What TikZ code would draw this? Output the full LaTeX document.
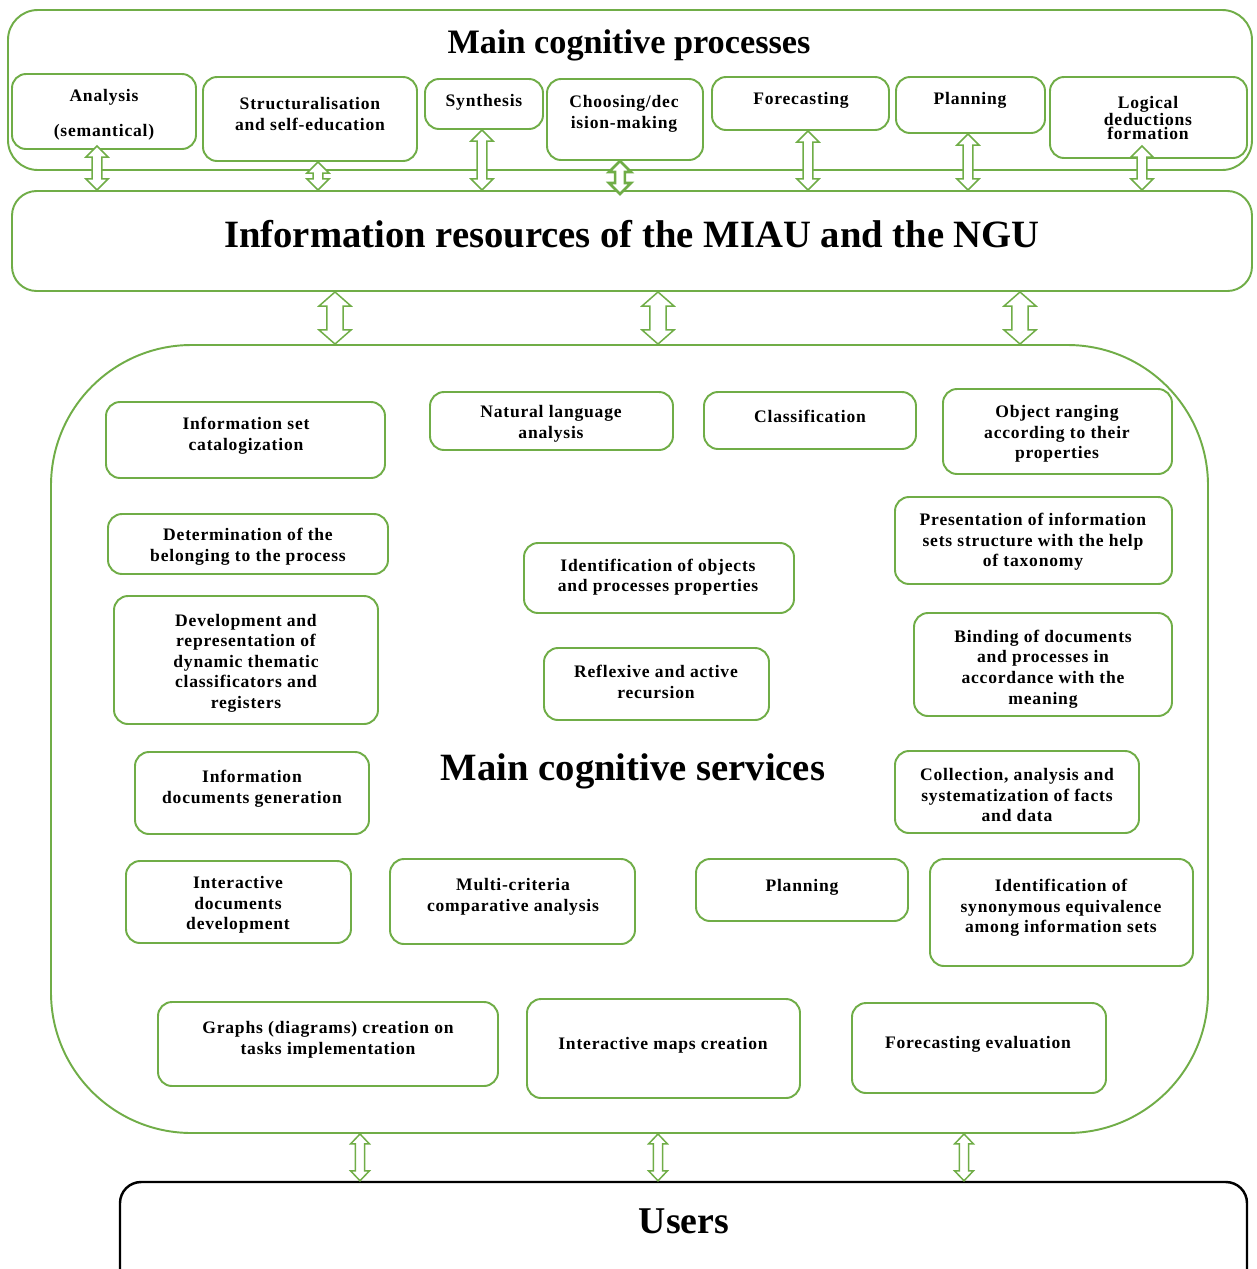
\documentclass[tikz,border=0pt]{standalone}
\usepackage{fontspec}
\setmainfont{Liberation Serif}
\newfontfamily\boxfont[LetterSpace=4.5]{Liberation Serif}
\usetikzlibrary{fit,calc}
\definecolor{lgreen}{RGB}{112,173,71}
\tikzstyle{groupbox}=[draw=lgreen,line width=1.1pt,inner sep=0pt,
                      rounded corners=17pt]
\tikzstyle{cbox}=[draw=lgreen,line width=1.1pt,inner sep=0pt,
                  rounded corners=8pt]
\tikzstyle{ctext}=[font=\boxfont\bfseries\fontsize{10}{11.7}\selectfont,
                   align=center,inner sep=0pt,yshift=-1.7pt]
\tikzstyle{bigtitle}=[font=\bfseries\fontsize{22}{24}\selectfont,inner sep=0pt]
\tikzset{arrsize/.code args={#1/#2/#3}{\def\ahw{#1}\def\asw{#2}\def\ahl{#3}},
  darrow/.style={draw=lgreen,line width=0.85pt,fill=white,to path={
    let \p1=(\tikztostart), \p2=(\tikztotarget) in
    (\x1,\y1) -- (\x1+\ahw,\y1-\ahl) -- (\x1+\asw,\y1-\ahl)
    -- (\x1+\asw,\y2+\ahl) -- (\x1+\ahw,\y2+\ahl) -- (\x1,\y2)
    -- (\x1-\ahw,\y2+\ahl) -- (\x1-\asw,\y2+\ahl)
    -- (\x1-\asw,\y1-\ahl) -- (\x1-\ahw,\y1-\ahl) -- cycle}}}

\begin{document}
\begin{tikzpicture}[x=0.02cm,y=-0.02cm]
  \useasboundingbox[fill=white] (0,0) rectangle (1257,1269);

  % main cognitive processes
  \node[groupbox,fit={(8,10) (1252,170)}] (proc) {};
  \node[bigtitle,font=\bfseries\fontsize{19.5}{22}\selectfont] (proc-t) at (629,45) {Main cognitive processes};
  \node[cbox,fit={(12,74) (196,149)}] (ana) {};
  \node[ctext] (ana-t) at (104,112) {Analysis\\[8pt](semantical)};
  \node[cbox,fit={(203,77) (417,161)}] (struc) {};
  \node[ctext] (struc-t) at (310,111) {Structuralisation\\and self-education};
  \node[cbox,fit={(425,79) (543,129)}] (synth) {};
  \node[ctext] (synth-t) at (484,99) {Synthesis};
  \node[cbox,fit={(547,79) (703,160)}] (choose) {};
  \node[ctext] (choose-t) at (624,111) {Choosing/dec\\ision-making};
  \node[cbox,fit={(712,77) (889,130)}] (fore) {};
  \node[ctext] (fore-t) at (801,97) {Forecasting};
  \node[cbox,fit={(896,77) (1045,133)}] (plan) {};
  \node[ctext] (plan-t) at (970,97) {Planning};
  \node[cbox,fit={(1050,77) (1247,158)}] (logic) {};
  \node[ctext,font=\boxfont\bfseries\fontsize{10}{8}\selectfont] (logic-t) at (1148,115) {Logical\\deductions\\formation};

  % information resources
  \node[groupbox,rounded corners=14pt,fit={(12,191) (1252,291)}] (info) {};
  \node[bigtitle] (info-t) at (632,234) {Information resources of the MIAU and the NGU};

  % main cognitive services
  \node[groupbox,rounded corners=80pt,fit={(51,345) (1208,1133)}] (serv) {};
  \node[bigtitle] (serv-t) at (633,771) {Main cognitive services};
  \node[cbox,fit={(106,402) (385,478)}] (catal) {};
  \node[ctext] (catal-t) at (246,433) {Information set\\catalogization};
  \node[cbox,fit={(430,392) (673,450)}] (natl) {};
  \node[ctext] (natl-t) at (551,421) {Natural language\\analysis};
  \node[cbox,fit={(704,392) (916,449)}] (class) {};
  \node[ctext] (class-t) at (810,413) {Classification};
  \node[cbox,fit={(943,389) (1172,474)}] (rang) {};
  \node[ctext] (rang-t) at (1057,431) {Object ranging\\according to their\\properties};
  \node[cbox,fit={(108,514) (388,574)}] (belong) {};
  \node[ctext] (belong-t) at (248,544) {Determination of the\\belonging to the process};
  \node[cbox,fit={(895,497) (1172,584)}] (taxo) {};
  \node[ctext] (taxo-t) at (1033,539) {Presentation of information\\sets structure with the help\\of taxonomy};
  \node[cbox,fit={(524,543) (794,613)}] (ident) {};
  \node[ctext] (ident-t) at (658,574) {Identification of objects\\and processes properties};
  \node[cbox,fit={(114,596) (378,724)}] (devel) {};
  \node[ctext] (devel-t) at (246,660) {Development and\\representation of\\dynamic thematic\\classificators and\\registers};
  \node[cbox,fit={(544,648) (769,720)}] (refl) {};
  \node[ctext] (refl-t) at (656,679) {Reflexive and active\\recursion};
  \node[cbox,fit={(914,613) (1172,716)}] (bind) {};
  \node[ctext] (bind-t) at (1043,666) {Binding of documents\\and processes in\\accordance with the\\meaning};
  \node[cbox,fit={(135,752) (369,834)}] (docgen) {};
  \node[ctext] (docgen-t) at (252,786) {Information\\documents generation};
  \node[cbox,fit={(895,751) (1139,833)}] (facts) {};
  \node[ctext] (facts-t) at (1017,792) {Collection, analysis and\\systematization of facts\\and data};
  \node[cbox,fit={(126,861) (351,943)}] (interdoc) {};
  \node[ctext] (interdoc-t) at (238,902) {Interactive\\documents\\development};
  \node[cbox,fit={(390,859) (635,944)}] (multi) {};
  \node[ctext] (multi-t) at (513,894) {Multi-criteria\\comparative analysis};
  \node[cbox,fit={(696,859) (908,921)}] (splan) {};
  \node[ctext] (splan-t) at (802,884) {Planning};
  \node[cbox,fit={(930,859) (1193,966)}] (synon) {};
  \node[ctext] (synon-t) at (1061,905) {Identification of\\synonymous equivalence\\among information sets};
  \node[cbox,fit={(158,1002) (498,1086)}] (graph) {};
  \node[ctext] (graph-t) at (328,1037) {Graphs (diagrams) creation on\\tasks implementation};
  \node[cbox,fit={(527,999) (800,1098)}] (maps) {};
  \node[ctext] (maps-t) at (663,1042) {Interactive maps creation};
  \node[cbox,fit={(852,1003) (1106,1093)}] (feval) {};
  \node[ctext] (feval-t) at (978,1041) {Forecasting evaluation};

  % users
  \node[draw=black,line width=1.4pt,rounded corners=12pt,inner sep=0pt,
        fit={(120,1182) (1247,1300)}] (users) {};
  \node[bigtitle,font=\bfseries\fontsize{21.5}{24}\selectfont] (users-t) at (684,1221) {Users};

  % arrows
  \begin{scope}[arrsize=6.3pt/2.8pt/6.3pt]
    \draw[darrow] ($(97,0 |- ana.south)+(0,-4)$) to (97,0 |- info.north);
    \foreach \src/\xx in {struc/318,synth/482,fore/808,plan/968}
      \draw[darrow] (\xx,0 |- \src.south) to (\xx,0 |- info.north);
    \draw[darrow,line width=1.5pt] (620,0 |- choose.south) to ($(620,0 |- info.north)+(0,4)$);
    \draw[darrow] ($(1142,0 |- logic.south)+(0,-13)$) to (1142,0 |- info.north);
  \end{scope}
  \begin{scope}[arrsize=9.1pt/4.6pt/8pt]
    \foreach \xx in {335,658,1020}
      \draw[darrow] (\xx,0 |- info.south) to (\xx,0 |- serv.north);
  \end{scope}
  \begin{scope}[arrsize=5.4pt/2.6pt/5.7pt]
    \foreach \xx in {360,658,964}
      \draw[darrow] (\xx,0 |- serv.south) to (\xx,0 |- users.north);
  \end{scope}
\end{tikzpicture}
\end{document}
